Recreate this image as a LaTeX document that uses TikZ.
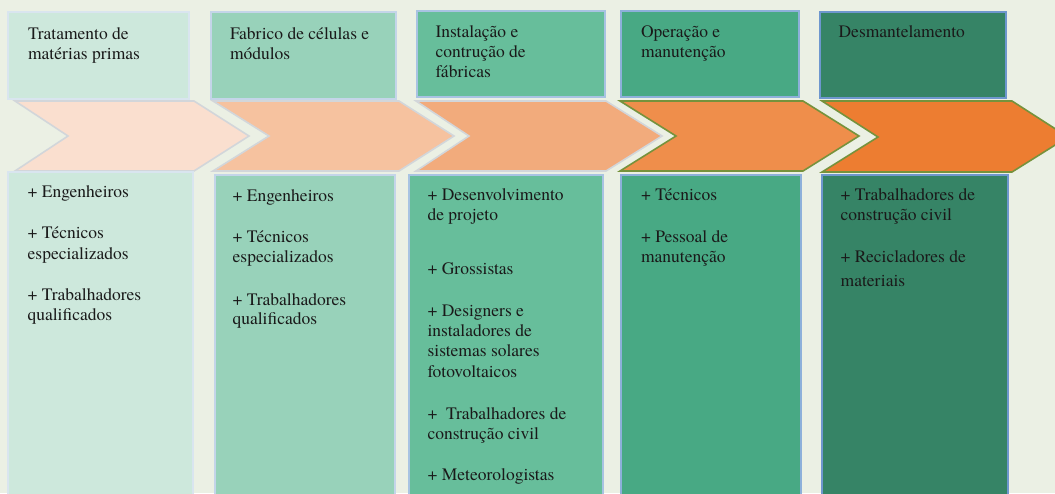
\documentclass[tikz,border=0pt]{standalone}
\usepackage{fontspec}
\setmainfont{TeX Gyre Termes}
\definecolor{bgc}{HTML}{EBF0E4}
\definecolor{f1}{HTML}{CDE8DC}
\definecolor{f2}{HTML}{98D2BA}
\definecolor{f3}{HTML}{67BE9B}
\definecolor{f4}{HTML}{48A984}
\definecolor{f5}{HTML}{368466}
\definecolor{b1}{HTML}{D9E5EF}
\definecolor{b2}{HTML}{C4D5E9}
\definecolor{b3}{HTML}{A8C3E2}
\definecolor{b4}{HTML}{8DB0DA}
\definecolor{b5}{HTML}{6E97CE}
\definecolor{c1}{HTML}{FADFCF}
\definecolor{c2}{HTML}{F6C29F}
\definecolor{c3}{HTML}{F2AB7C}
\definecolor{c4}{HTML}{EF8E4B}
\definecolor{c5}{HTML}{ED7D31}
\definecolor{cgray}{HTML}{D2D6DA}
\definecolor{cgreen}{HTML}{76923C}
\definecolor{ink}{HTML}{1A1A1A}
\begin{document}
\begin{tikzpicture}[x=1pt,y=-1pt,
  txt/.style={anchor=base west, inner sep=0pt, outer sep=0pt, font=\fontsize{17.5}{20.5}\selectfont, text=ink},
  box/.style={draw, line width=1.6pt, anchor=north west, inner sep=0pt, outer sep=0pt},
  chev/.style={line width=1.6pt, line join=miter}]
\fill[bgc] (0,0) rectangle (1055,493);
\useasboundingbox (0,0) rectangle (1055,493);
\clip (0,0) rectangle (1055,493);
% top boxes
\node[box, draw=b1, fill=f1, minimum width=181pt, minimum height=87pt] (T1) at (8,12) {};
\node[box, draw=b2, fill=f2, minimum width=185pt, minimum height=87pt] (T2) at (211,12) {};
\node[box, draw=b3, fill=f3, minimum width=188pt, minimum height=86pt] (T3) at (417,11) {};
\node[box, draw=b4, fill=f4, minimum width=178pt, minimum height=86pt] (T4) at (621,11) {};
\node[box, draw=b5, fill=f5, minimum width=186pt, minimum height=86pt] (T5) at (820,12) {};
% chevrons
\draw[chev, draw=cgray, fill=c1] (15,101) -- (194,101) -- (249,136) -- (194,171) -- (15,171) -- (68,136) -- cycle;
\draw[chev, draw=cgray, fill=c2] (213,101) -- (399,101) -- (454,136) -- (399,171) -- (213,171) -- (269,136) -- cycle;
\draw[chev, draw=cgray, fill=c3] (416,101) -- (606,101) -- (662,136) -- (606,171) -- (416,171) -- (469,136) -- cycle;
\draw[chev, draw=cgreen, fill=c4] (620,101) -- (803,101) -- (859,136) -- (803,171) -- (620,171) -- (676,136) -- cycle;
\draw[chev, draw=cgreen, fill=c5] (822,101) -- (1012,101) -- (1068,137) -- (1012,172) -- (822,172) -- (878,137) -- cycle;
% bottom boxes
\node[box, draw=b1, fill=f1, minimum width=185pt, minimum height=330pt] (B1) at (8,172) {};
\node[box, draw=b2, fill=f2, minimum width=180pt, minimum height=330pt] (B2) at (215,175) {};
\node[box, draw=b3, fill=f3, minimum width=194pt, minimum height=330pt] (B3) at (409,175) {};
\node[box, draw=b4, fill=f4, minimum width=180pt, minimum height=330pt] (B4) at (621,175) {};
\node[box, draw=b5, fill=f5, minimum width=186pt, minimum height=330pt] (B5) at (822,175) {};
% texts
\foreach \x/\y/\t [count=\i] in {
  28/39.3/{Tratamento de}, 28/59.5/{matérias primas},
  230/39.3/{Fabrico de células e}, 230/59.5/{módulos},
  435.5/37.3/{Instalação e}, 435.5/57.3/{contrução de}, 435.5/77.3/{fábricas},
  641/37.3/{Operação e}, 641/57.3/{manutenção},
  838.6/37.3/{Desmantelamento},
  27.7/197.3/{+ Engenheiros}, 27.7/238.3/{+ Técnicos}, 27.7/259/{especializados},
  27.7/300.7/{+ Trabalhadores}, 27.7/320.7/{qualificados},
  232.7/201.7/{+ Engenheiros}, 232.7/242.3/{+ Técnicos}, 232.7/262.7/{especializados},
  232.7/305/{+ Trabalhadores}, 232.7/324.5/{qualificados},
  427.6/200.7/{+ Desenvolvimento}, 427.6/220.7/{de projeto},
  427.6/274/{+ Grossistas},
  427.6/316/{+ Designers e}, 427.6/336.3/{instaladores de}, 427.6/356.7/{sistemas solares}, 427.6/377/{fotovoltaicos},
  427.6/419.3/{+\enspace Trabalhadores de}, 427.6/439.5/{construção civil},
  427.6/480.7/{+ Meteorologistas},
  641/200.7/{+ Técnicos}, 641/242.3/{+ Pessoal de}, 641/262.7/{manutenção},
  840.7/200.7/{+ Trabalhadores de}, 840.7/220.7/{construção civil},
  840.7/262.7/{+ Recicladores de}, 840.7/286/{materiais}}
  \node[txt] (L\i) at (\x,\y) {\t};
\end{tikzpicture}
\end{document}
